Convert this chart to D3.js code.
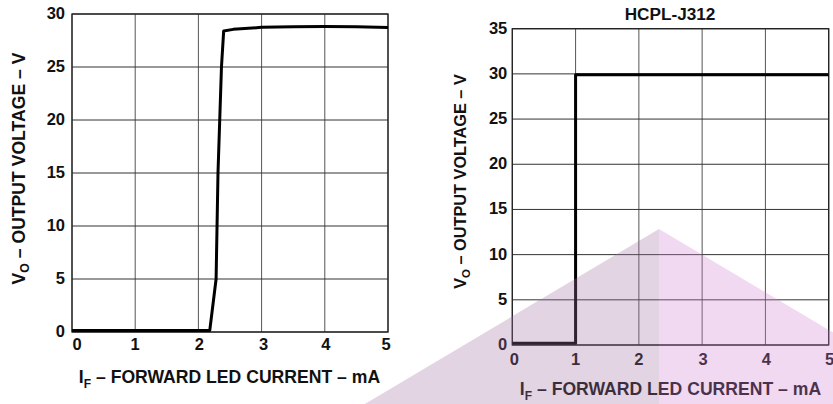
<!DOCTYPE html>
<html>
<head>
<meta charset="utf-8">
<script src="https://cdn.jsdelivr.net/npm/d3@7/dist/d3.min.js"></script>
<style>
  html, body { margin: 0; padding: 0; background: #fff; }
  svg { display: block; }
  text { font-family: "Liberation Sans", Arial, Helvetica, sans-serif; font-weight: bold; fill: #111; }
</style>
</head>
<body>
<svg id="chart" width="833" height="404"></svg>
<script>
// ---- data ----
const xTicks = [0, 1, 2, 3, 4, 5];
const leftYTicks = [0, 5, 10, 15, 20, 25, 30];
const rightYTicks = [0, 5, 10, 15, 20, 25, 30, 35];

const leftCurrent = [0, 2.18, 2.28, 2.31, 2.365, 2.40, 2.55, 3.0, 3.5, 4.0, 4.5, 5.0];
const leftVoltage = [0.15, 0.15, 5, 15, 25, 28.4, 28.55, 28.74, 28.8, 28.82, 28.8, 28.72];

const rightCurrent = [0, 1, 1, 5];
const rightVoltage = [0.2, 0.2, 29.9, 29.9];

const rightTitle = "HCPL-J312";
const yLabelMain = "V";
const yLabelSub = "O";
const yLabelRest = " – OUTPUT VOLTAGE – V";
const xLabelMain = "I";
const xLabelSub = "F";
const xLabelRest = " – FORWARD LED CURRENT – mA";

// ---- drawing ----
const svg = d3.select("#chart");

function panel(cfg) {
  const x = d3.scaleLinear().domain([0, 5]).range([cfg.x0, cfg.x1]);
  const y = d3.scaleLinear().domain([0, cfg.yMax]).range([cfg.y1, cfg.y0]);
  const g = svg.append("g");

  // grid
  g.append("g").selectAll("line").data(xTicks).join("line")
    .attr("x1", d => x(d)).attr("x2", d => x(d))
    .attr("y1", cfg.y0).attr("y2", cfg.y1)
    .attr("stroke", "#555").attr("stroke-width", 1);
  g.append("g").selectAll("line").data(cfg.yTicks).join("line")
    .attr("x1", cfg.x0).attr("x2", cfg.x1)
    .attr("y1", d => y(d)).attr("y2", d => y(d))
    .attr("stroke", "#333").attr("stroke-width", 1);
  // frame
  g.append("rect")
    .attr("x", cfg.x0).attr("y", cfg.y0)
    .attr("width", cfg.x1 - cfg.x0).attr("height", cfg.y1 - cfg.y0)
    .attr("fill", "none").attr("stroke", "#222").attr("stroke-width", 1.3);

  // y tick labels
  g.append("g").selectAll("text").data(cfg.yTicks).join("text")
    .attr("x", cfg.x0 - cfg.yLabGap)
    .attr("y", d => y(d) + 5)
    .attr("text-anchor", "end")
    .style("font-size", "16.5px")
    .text(d => d);

  // x tick labels
  g.append("g").selectAll("text").data(xTicks).join("text")
    .attr("x", (d, i) => x(d) + cfg.xLabDx[i])
    .attr("y", cfg.y1 + cfg.xLabDy)
    .attr("text-anchor", "middle")
    .style("font-size", "16.5px")
    .text(d => d);

  // curve
  const pts = cfg.xs.map((v, i) => [v, cfg.ys[i]]);
  g.append("path")
    .datum(pts)
    .attr("d", d3.line().x(d => x(d[0])).y(d => y(d[1])))
    .attr("fill", "none").attr("stroke", "#000")
    .attr("stroke-width", 3).attr("stroke-linejoin", "round");

  // x axis title
  const xt = g.append("text")
    .attr("x", cfg.xTitleX).attr("y", cfg.xTitleY)
    .attr("text-anchor", "middle")
    .style("font-size", "17.6px");
  xt.append("tspan").text(xLabelMain);
  xt.append("tspan").attr("dy", 4.5).style("font-size", "12px").text(xLabelSub);
  xt.append("tspan").attr("dy", -4.5).text(xLabelRest);

  // y axis title
  const yt = g.append("text")
    .attr("transform", `translate(${cfg.yTitleX},${cfg.yTitleY}) rotate(-90)`)
    .attr("text-anchor", "middle")
    .style("font-size", cfg.yTitleSize + "px");
  yt.append("tspan").text(yLabelMain);
  yt.append("tspan").attr("dy", 4.5).style("font-size", (cfg.yTitleSize * 0.7) + "px").text(yLabelSub);
  yt.append("tspan").attr("dy", -4.5).text(yLabelRest);

  if (cfg.title) {
    g.append("text")
      .attr("x", (cfg.x0 + cfg.x1) / 2 - 0.5).attr("y", 19.5)
      .attr("text-anchor", "middle")
      .style("font-size", "17.2px")
      .text(cfg.title);
  }
}

panel({
  x0: 72, x1: 388, y0: 14, y1: 332, yMax: 30,
  yTicks: leftYTicks, xs: leftCurrent, ys: leftVoltage,
  yLabGap: 7, xLabDx: [5, 0, 1, 2, 1, -2], xLabDy: 18,
  xTitleX: 229.5, xTitleY: 383.3, yTitleX: 24.5, yTitleY: 168.5, yTitleSize: 17.6
});

panel({
  x0: 512.3, x1: 828.7, y0: 28.7, y1: 345, yMax: 35,
  yTicks: rightYTicks, xs: rightCurrent, ys: rightVoltage,
  yLabGap: 5, xLabDx: [2, 0, 0, 1, 1, 1], xLabDy: 20,
  xTitleX: 670.5, xTitleY: 395, yTitleX: 465.5, yTitleY: 181.5, yTitleSize: 16.3,
  title: rightTitle
});

// decorative translucent triangle overlay (bottom right)
const apex = [659, 229];
const slope = 0.595;
const baseY = 404;
const half = (baseY - apex[1]) / slope;
svg.append("polygon")
  .attr("points", [[apex[0] - half, baseY], apex, [apex[0], baseY]].map(p => p.join(",")).join(" "))
  .attr("fill", "rgb(162,112,162)").attr("fill-opacity", 0.3);
svg.append("polygon")
  .attr("points", [[apex[0], baseY], apex, [apex[0] + half, baseY]].map(p => p.join(",")).join(" "))
  .attr("fill", "rgb(208,128,208)").attr("fill-opacity", 0.3);
</script>
</body>
</html>
